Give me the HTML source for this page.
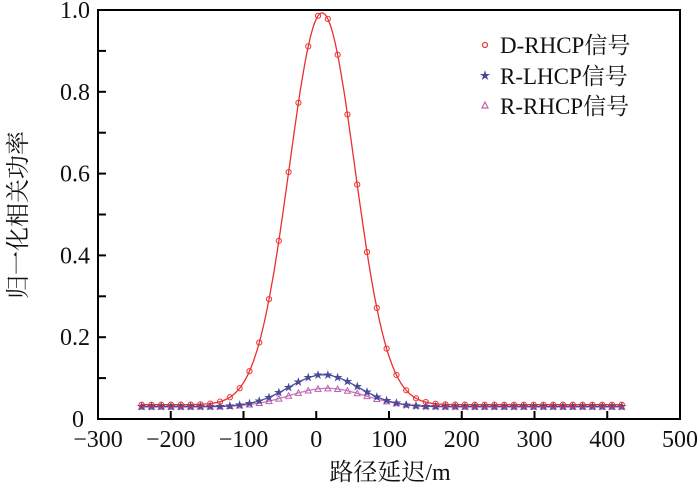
<!DOCTYPE html>
<html><head><meta charset="utf-8"><style>
html,body{margin:0;padding:0;background:#fff;width:700px;height:492px;overflow:hidden}
text{font-family:"Liberation Serif","Noto Serif CJK SC",serif;fill:#111}
</style></head><body>
<svg id="s" width="700" height="492" viewBox="0 0 700 492" xmlns="http://www.w3.org/2000/svg">
<rect x="98" y="10" width="582" height="409" fill="none" stroke="#000" stroke-width="2"/>
<g id="ticks" stroke="#000" stroke-width="2"></g>
<g id="series"></g>
<g font-size="24" text-anchor="end" id="yl"></g>
<g font-size="24" text-anchor="middle" id="xl"></g>
<text x="390" y="480" font-size="24" text-anchor="middle">路径延迟/m</text>
<text transform="translate(26,215) rotate(-90)" font-size="24" text-anchor="middle">归一化相关功率</text>
<g font-size="23">
<circle cx="485" cy="45" r="2.5" fill="none" stroke="#e33" stroke-width="1.2"/>
<text x="500" y="53">D-RHCP信号</text>
<text x="485" y="79" font-size="11" text-anchor="middle" style="fill:#4a4a96">★</text>
<text x="500" y="84">R-LHCP信号</text>
<polygon points="482,108 488,108 485,102" fill="none" stroke="#c060b0" stroke-width="1.2"/>
<text x="500" y="114">R-RHCP信号</text>
</g>
</svg>
<script>
const X=v=>98+(v+300)*582/800, Y=v=>419-v*409;
let t='',yl='',xl='';
for(let i=1;i<10;i++){t+=`<line x1="98" x2="106" y1="${Y(i/10)}" y2="${Y(i/10)}"/>`;}
for(let i=0;i<=5;i++){yl+=`<text x="${i==0?84:90}" y="${Y(i/5)+8}">${i==0?'0':(i/5).toFixed(1)}</text>`;}
for(let v=-200;v<=400;v+=100){t+=`<line x1="${X(v)}" x2="${X(v)}" y1="419" y2="411"/>`;}
for(let v=-300;v<=500;v+=100){xl+=`<text x="${X(v)}" y="447">${v<0?'\u2212'+(-v):v}</text>`;}
document.getElementById('ticks').innerHTML=t;
document.getElementById('yl').innerHTML=yl;
document.getElementById('xl').innerHTML=xl;
const g=(x,b,a,c,s)=>b+a*Math.exp(-((x-c)**2)/(2*s*s));
const R=x=>g(x,0.035,0.958,8,45), B=x=>g(x,0.03,0.078,10,48), P=x=>g(x,0.03,0.045,15,52);
function line(f,col){let p=[];for(let x=-240;x<=420;x+=2)p.push(X(x).toFixed(1)+','+Y(f(x)).toFixed(1));return `<polyline points="${p.join(' ')}" fill="none" stroke="${col}" stroke-width="1.3"/>`;}
let h='';
h+=line(P,'#c878c0')+line(B,'#4a4a96')+line(R,'#e83030');
for(let i=0;i<=49;i++){const x=-240+i*660/49;
 const px=X(x),py=Y(P(x));h+=`<polygon points="${px-3},${py+2.5} ${px+3},${py+2.5} ${px},${py-3}" fill="none" stroke="#c060b0" stroke-width="1"/>`;
 const bx=X(x),by=Y(B(x));h+=`<text x="${bx}" y="${by+3.5}" font-size="10" text-anchor="middle" style="fill:#4a4a96">★</text>`;
 const rx=X(x),ry=Y(R(x));h+=`<circle cx="${rx}" cy="${ry}" r="2.6" fill="none" stroke="#e33" stroke-width="1"/>`;}
document.getElementById('series').innerHTML=h;
</script>
</body></html>
